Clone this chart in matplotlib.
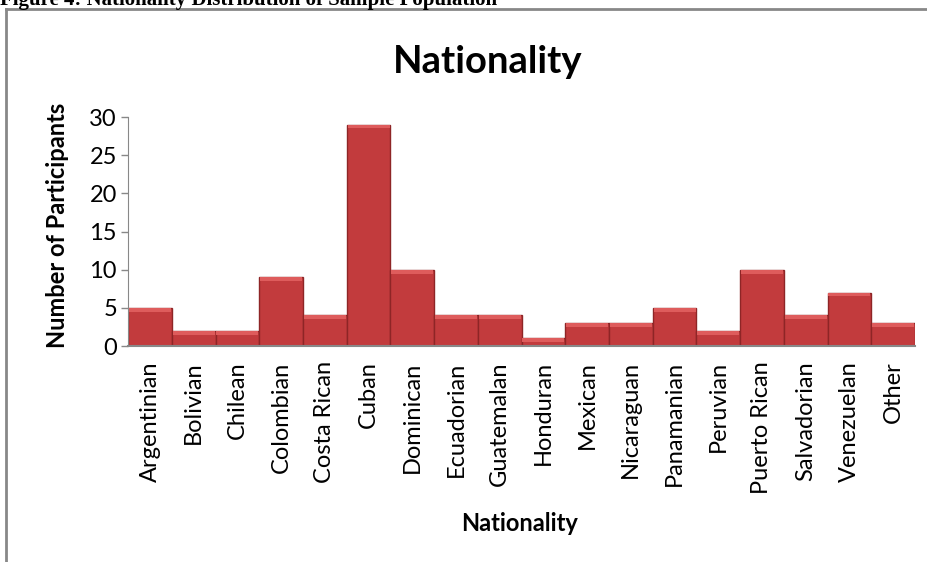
import matplotlib.pyplot as plt
from matplotlib.lines import Line2D
import numpy as np

nationalities = ["Argentinian", "Bolivian", "Chilean", "Colombian", "Costa Rican",
                 "Cuban", "Dominican", "Ecuadorian", "Guatemalan", "Honduran",
                 "Mexican", "Nicaraguan", "Panamanian", "Peruvian", "Puerto Rican",
                 "Salvadorian", "Venezuelan", "Other"]
participants = [5, 2, 2, 9, 4, 29, 10, 4, 4, 1, 3, 3, 5, 2, 10, 4, 7, 3]
yticks = [0, 5, 10, 15, 20, 25, 30]

plt.rcParams['font.family'] = ['Lato', 'DejaVu Sans']

fig = plt.figure(figsize=(9.28, 5.62), dpi=100)
ax = fig.add_axes([0.138, 0.3843, 0.848, 0.4075])

x = np.arange(len(nationalities))
ax.bar(x, participants, width=1.0, color='#C23B3D', edgecolor='#8E2526', linewidth=1.0)
# lighter bevel strip on top of each bar
ax.bar(x, [0.5] * len(x), bottom=[v - 0.5 for v in participants], width=0.96,
       color='#DE5C5C', linewidth=0)

ax.set_xlim(-0.5, len(x) - 0.5)
ax.set_ylim(0, 30)
ax.set_yticks(yticks)
ax.set_xticks(x)
ax.set_xticklabels(nationalities, rotation=90, fontsize=17)
ax.tick_params(axis='x', length=0, pad=11)
ax.tick_params(axis='y', labelsize=17, color='#888888', length=5, width=1, pad=3)

for s in ['top', 'right']:
    ax.spines[s].set_visible(False)
for s in ['left', 'bottom']:
    ax.spines[s].set_color('#888888')
ax.spines['bottom'].set_linewidth(1.5)

fig.text(0.525, 1 - 62 / 562, "Nationality", fontsize=27.5, fontweight='bold',
         ha='center', va='center')
ax.set_ylabel("Number of Participants", fontsize=17, fontweight='bold')
ax.yaxis.set_label_coords(-0.075, 0.525)
ax.set_xlabel("Nationality", fontsize=17, fontweight='bold')
ax.xaxis.set_label_coords(0.498, -0.725)

# outer frame (left and top edges visible)
fig.add_artist(Line2D([6 / 928, 6 / 928], [0, 1 - 9 / 562], color='#888888', lw=2,
                      transform=fig.transFigure))
fig.add_artist(Line2D([6 / 928, 1], [1 - 9 / 562, 1 - 9 / 562], color='#888888', lw=2,
                      transform=fig.transFigure))

fig.text(0.0, 1 - 5 / 562, "Figure 4: Nationality Distribution of Sample Population",
         family='Liberation Serif', fontweight='bold', fontsize=15, va='baseline')

fig.savefig("out.png", dpi=100)
